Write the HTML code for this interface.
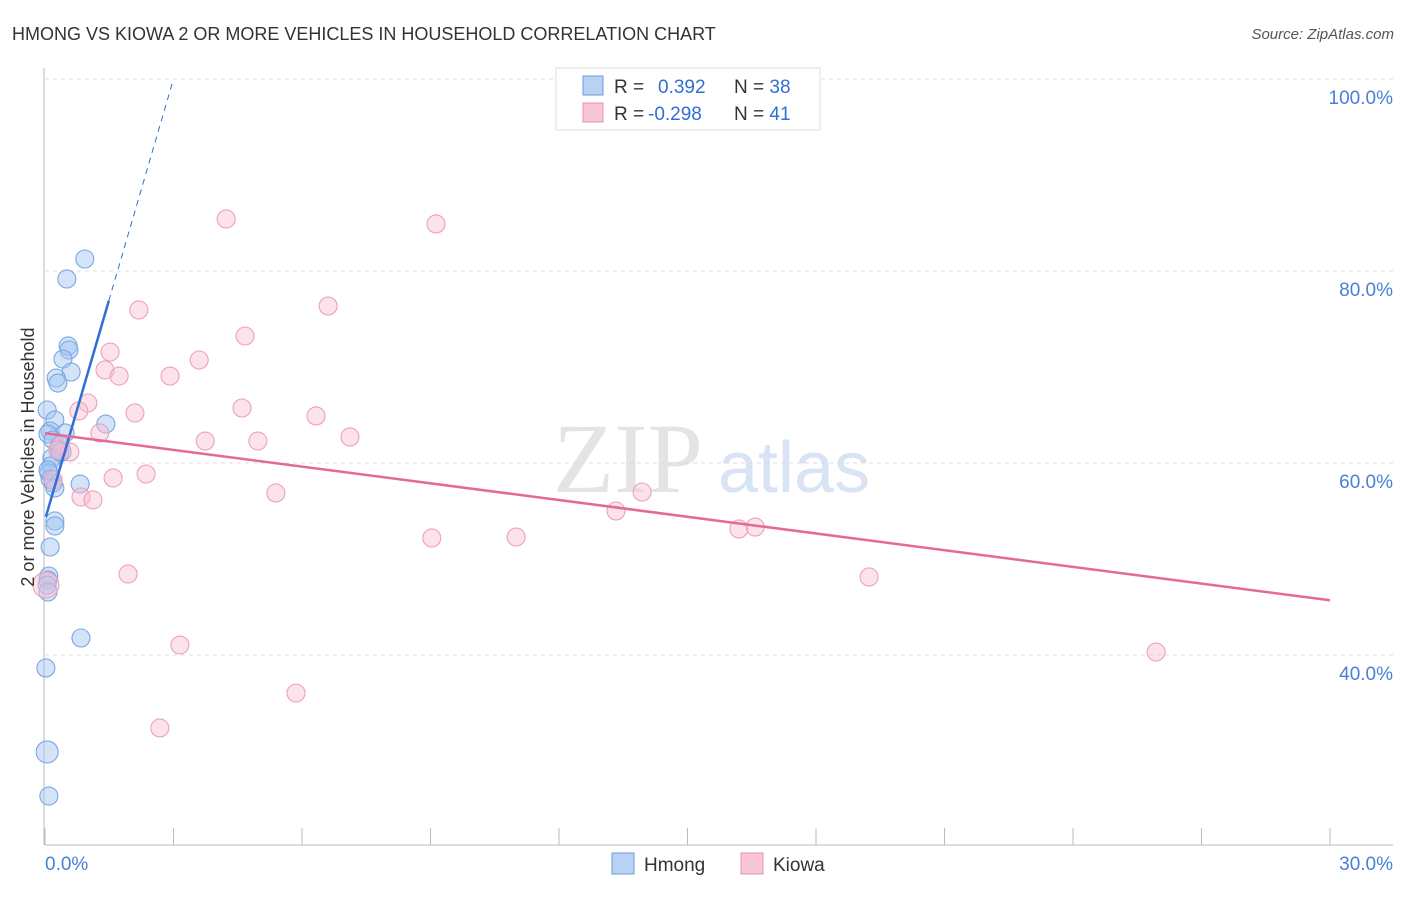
<!DOCTYPE html>
<html><head><meta charset="utf-8"><style>
body{margin:0;background:#fff;font-family:"Liberation Sans",sans-serif}
</style></head><body>
<svg id="c" width="1406" height="892" xmlns="http://www.w3.org/2000/svg" style="font-family:'Liberation Sans',sans-serif">
<text x="12" y="40" font-size="18" fill="#333">HMONG VS KIOWA 2 OR MORE VEHICLES IN HOUSEHOLD CORRELATION CHART</text>
<text x="1394" y="39" font-size="15" fill="#555" text-anchor="end" font-style="italic">Source: ZipAtlas.com</text>
<text x="553" y="492" font-size="100" fill="#e4e4e4" font-family="Liberation Serif">ZIP</text>
<text x="718" y="492" font-size="72" fill="#d8e4f4">atlas</text>
<g id="grid"></g><g id="pts"></g><g id="lines"></g>
<text transform="translate(34,457) rotate(-90)" font-size="18" fill="#333" text-anchor="middle">2 or more Vehicles in Household</text>
<g>
<rect x="556" y="68" width="264" height="62" fill="#fff" stroke="#ddd"/>
<rect x="583" y="76" width="20" height="19" fill="#b8d2f4" stroke="#6a9be0"/>
<rect x="583" y="103" width="20" height="19" fill="#f9c6d6" stroke="#ec8fae"/>
<text x="614" y="93" font-size="19" fill="#333">R = <tspan fill="#2f6fd6" x="658">0.392</tspan><tspan x="734" fill="#333">N = </tspan><tspan fill="#2f6fd6">38</tspan></text>
<text x="614" y="120" font-size="19" fill="#333">R = <tspan fill="#2f6fd6" x="648">-0.298</tspan><tspan x="734" fill="#333">N = </tspan><tspan fill="#2f6fd6">41</tspan></text>
</g>
<g>
<rect x="612" y="853" width="22" height="21" fill="#b8d2f4" stroke="#6a9be0"/>
<text x="644" y="871" font-size="19" fill="#333">Hmong</text>
<rect x="741" y="853" width="22" height="21" fill="#f9c6d6" stroke="#ec8fae"/>
<text x="773" y="871" font-size="19" fill="#333">Kiowa</text>
</g>
</svg>
<script>
const hmongX=[0.93,0.51,0.54,0.56,0.42,0.61,0.26,0.30,0.05,0.23,0.12,0.07,0.47,0.19,1.42,0.35,0.30,0.40,0.16,0.14,0.09,0.12,0.19,0.23,0.82,0.23,0.23,0.12,0.09,0.07,0.05,0.07,0.84,0.02,0.05,0.09,0.35,0.07];
const hmongY=[81.25,79.17,72.19,71.77,70.83,69.48,68.85,68.33,65.52,64.48,63.33,63.02,63.13,62.40,64.06,61.88,61.35,61.15,60.52,59.69,58.96,58.33,57.92,57.40,57.81,53.96,53.44,51.25,48.23,47.81,47.29,46.56,41.77,38.65,29.90,25.31,61.15,59.27];
const kiowaX=[4.23,9.13,2.19,6.61,4.67,1.52,3.60,1.40,1.73,2.92,1.00,0.79,2.10,4.60,6.33,1.28,3.74,4.97,7.12,0.37,0.58,0.30,2.36,1.59,0.19,0.84,1.12,5.39,13.94,13.33,9.03,11.00,16.20,16.58,1.94,19.24,0.02,3.15,25.94,5.86,2.68];
const kiowaY=[85.42,84.90,75.94,76.35,73.23,71.56,70.73,69.69,69.06,69.06,66.25,65.42,65.21,65.73,64.90,63.13,62.29,62.29,62.71,61.88,61.15,61.35,58.85,58.44,58.23,56.46,56.15,56.88,56.98,55.00,52.19,52.29,53.13,53.33,48.44,48.13,47.29,41.04,40.31,36.04,32.40];
const yTicks=[100,80,60,40];
const xTickLabels=["0.0%","30.0%"];
const hmongTrend=[[0.02,54.4],[1.49,76.9],[3.0,100]];
const kiowaTrend=[[0,63.1],[30,45.7]];
const X=v=>45+v/30*1285, Y=v=>79+(100-v)/20*192;
const NS="http://www.w3.org/2000/svg";
function mk(t,a,p){const e=document.createElementNS(NS,t);for(const k in a)e.setAttribute(k,a[k]);p.appendChild(e);return e;}
const g=document.getElementById('grid');
yTicks.forEach(t=>{
 const l=mk('line',{x1:45,x2:1393,y1:Y(t),y2:Y(t),stroke:'#ddd','stroke-dasharray':'4,4'},g);
 
 
 const tx=mk('text',{x:1393,y:Y(t)+25,'font-size':19,fill:'#4a7fd6','text-anchor':'end'},g);
 tx.textContent=t.toFixed(1)+'%';
 
 
});
const ax=mk('line',{x1:44,x2:44,y1:68,y2:845,stroke:'#bbb'},g);


const bx=mk('line',{x1:45,x2:1393,y1:845,y2:845,stroke:'#bbb'},g);


for(let i=0;i<=10;i++){const t=mk('line',{x1:X(i*3),x2:X(i*3),y1:828,y2:845,stroke:'#bbb'},g);
 
 }
[[0,'start',45],[30,'end',1393]].forEach((d,i)=>{const t=mk('text',{x:d[2],y:870,'font-size':19,fill:'#4a7fd6','text-anchor':d[1]},g);t.textContent=xTickLabels[i];
 
 });
const P=document.getElementById('pts');
hmongX.forEach((x,i)=>{const c=mk('circle',{cx:X(x),cy:Y(hmongY[i]),r:i==34?11:9,fill:'rgba(160,196,240,0.45)',stroke:'#7aa6e4','stroke-width':1.1},P);
 
 });
kiowaX.forEach((x,i)=>{const c=mk('circle',{cx:X(x),cy:Y(kiowaY[i]),r:i==36?13:9,fill:'rgba(248,190,208,0.45)',stroke:'#eea0ba','stroke-width':1.1},P);
 
 });
const L=document.getElementById('lines');
let a=mk('line',{x1:X(hmongTrend[0][0]),y1:Y(hmongTrend[0][1]),x2:X(hmongTrend[1][0]),y2:Y(hmongTrend[1][1]),stroke:'#2f6fd6','stroke-width':2.5},L);


a=mk('line',{x1:X(hmongTrend[1][0]),y1:Y(hmongTrend[1][1]),x2:X(hmongTrend[2][0]),y2:Y(hmongTrend[2][1]),stroke:'#2f6fd6','stroke-width':1,'stroke-dasharray':'6,5'},L);


a=mk('line',{x1:X(kiowaTrend[0][0]),y1:Y(kiowaTrend[0][1]),x2:X(kiowaTrend[1][0]),y2:Y(kiowaTrend[1][1]),stroke:'#e5689a','stroke-width':2.5},L);


</script>
</body></html>
